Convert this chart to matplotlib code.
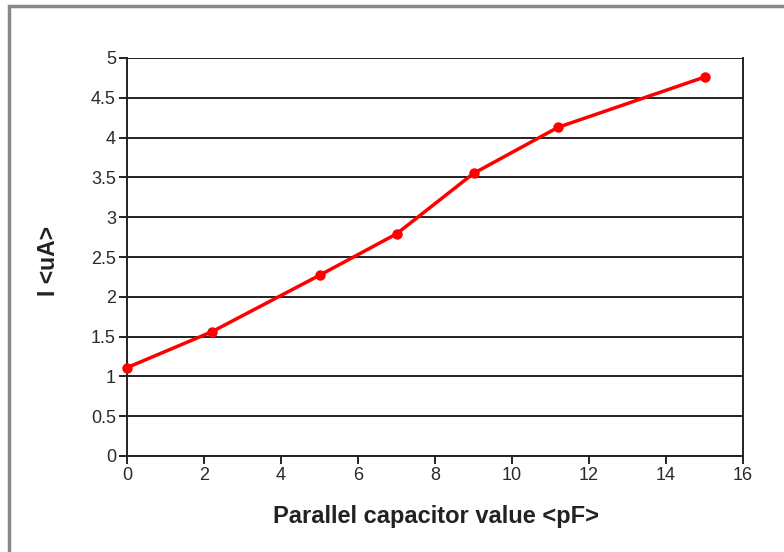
import matplotlib.pyplot as plt
from matplotlib.patches import Rectangle

# valores
capacitancia = [0, 2.2, 5, 7, 9, 11.2, 15]
corriente = [1.11, 1.56, 2.27, 2.79, 3.55, 4.13, 4.76]
xticks = list(range(0, 17, 2))
yticks = [0, 0.5, 1, 1.5, 2, 2.5, 3, 3.5, 4, 4.5, 5]
ytick_labels = ['0', '0.5', '1', '1.5', '2', '2.5', '3', '3.5', '4', '4.5', '5']

plt.rcParams['font.family'] = ['Liberation Sans', 'DejaVu Sans']

fig = plt.figure(figsize=(7.84, 5.52), dpi=100)
# marco gris exterior
fig.patches.append(Rectangle((9/784, -0.1), 1.2, 1 - 6/552 + 0.1, transform=fig.transFigure,
                             fill=False, edgecolor='#888888', linewidth=2.5))

ax = fig.add_axes([127/784, 1 - 456/552, 616/784, 398/552])
ax.set_xlim(0, 16)
ax.set_ylim(0, 5)
ax.set_xticks(xticks)
ax.set_yticks(yticks)
ax.set_yticklabels(ytick_labels)
ax.yaxis.grid(True, color='#222222', linewidth=1.4)
ax.set_axisbelow(True)
for s in ['left', 'bottom', 'right']:
    ax.spines[s].set_color('#222222')
    ax.spines[s].set_linewidth(1.4)
ax.spines['top'].set_visible(False)
ax.tick_params(direction='out', length=6, width=1.4, color='#222222', labelsize=13, labelcolor='#2a2a2a', pad=2)

ax.plot(capacitancia, corriente, color='#ff0000', linewidth=2.5, marker='o', markersize=6.5, clip_on=False, zorder=3)

ax.set_xlabel('Parallel capacitor value <pF>', fontsize=17, fontweight='bold', color='#222222')
ax.set_ylabel('I <uA>', fontsize=16.5, fontweight='bold', color='#222222')
ax.xaxis.set_label_coords(0.502, -0.122)
ax.yaxis.set_label_coords(-0.109, 0.49)

fig.savefig('out.png', dpi=100)
